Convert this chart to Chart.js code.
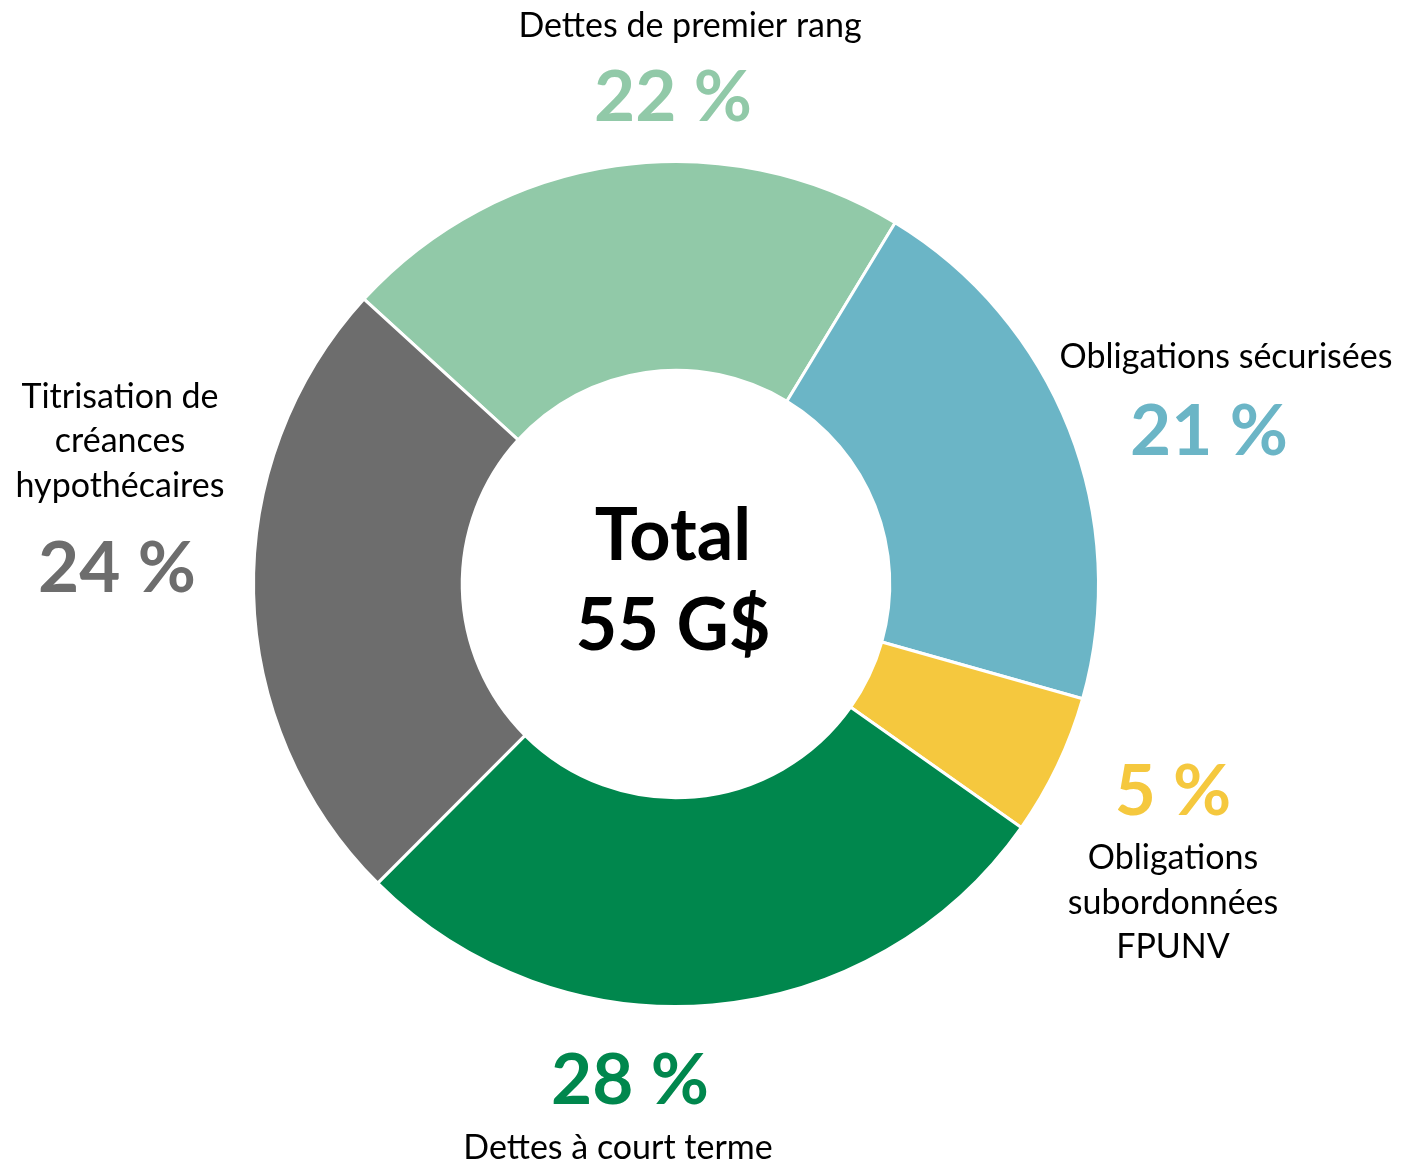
<!DOCTYPE html>
<html>
<head>
<meta charset="utf-8">
<script src="https://cdn.jsdelivr.net/npm/chart.js@4"></script>
<style>
  html, body { margin: 0; padding: 0; background: #fff; }
  #wrap { width: 1402px; height: 1165px; }
</style>
</head>
<body>
<div id="wrap"><canvas id="graphique" width="1402" height="1165"></canvas></div>
<script>
// Données (parts en %)
const categories = ['Dettes de premier rang', 'Obligations sécurisées', 'Obligations subordonnées FPUNV', 'Dettes à court terme', 'Titrisation de créances hypothécaires'];
const parts = [21.9, 20.7, 5.4, 27.7, 24.3];
const etiquettes = ['22 %', '21 %', '5 %', '28 %', '24 %'];
const couleurs = ['#91c9a8', '#6bb5c6', '#f5c83e', '#00874d', '#6d6d6d'];
const totalTexte = ['Total', '55 G$'];

// Position des étiquettes (centre du texte)
const positions = [
    { nom: [[690, 26]], pct: [673, 98] },
    { nom: [[1226, 357]], pct: [1209, 432] },
    { nom: [[1173, 858], [1173, 903], [1173, 947]], pct: [1173, 792], lignes: ['Obligations', 'subordonnées', 'FPUNV'] },
    { nom: [[618, 1148]], pct: [630, 1081] },
    { nom: [[120, 397], [120, 441], [120, 486]], pct: [117, 569], lignes: ['Titrisation de', 'créances', 'hypothécaires'] }
];

const etiquettesPlugin = {
    id: 'etiquettes',
    afterDraw(chart) {
        const ctx = chart.ctx;
        const arc = chart.getDatasetMeta(0).data[0];
        ctx.save();
        ctx.textAlign = 'center';
        ctx.textBaseline = 'middle';

        positions.forEach((p, i) => {
            const lignes = p.lignes || [categories[i]];
            ctx.fillStyle = '#000';
            ctx.font = '34px Lato';
            lignes.forEach((l, j) => ctx.fillText(l, p.nom[j][0], p.nom[j][1]));
            ctx.fillStyle = couleurs[i];
            ctx.font = 'bold 71px Lato';
            ctx.fillText(etiquettes[i], p.pct[0], p.pct[1]);
        });

        // Texte central
        ctx.fillStyle = '#000';
        ctx.font = 'bold 72px Lato';
        ctx.fillText(totalTexte[0], arc.x - 3, arc.y - 47);
        ctx.fillText(totalTexte[1], arc.x - 3, arc.y + 43);
        ctx.restore();
    }
};

new Chart(document.getElementById('graphique'), {
    type: 'doughnut',
    data: {
        labels: categories,
        datasets: [{
            data: parts,
            backgroundColor: couleurs,
            borderColor: '#ffffff',
            borderWidth: 3
        }]
    },
    options: {
        responsive: false,
        animation: false,
        rotation: -47.6,
        cutout: '50.6%',
        layout: {
            padding: { left: 252, right: 302, top: 160, bottom: 157 }
        },
        plugins: {
            legend: { display: false },
            tooltip: { enabled: false }
        }
    },
    plugins: [etiquettesPlugin]
});
</script>
</body>
</html>
